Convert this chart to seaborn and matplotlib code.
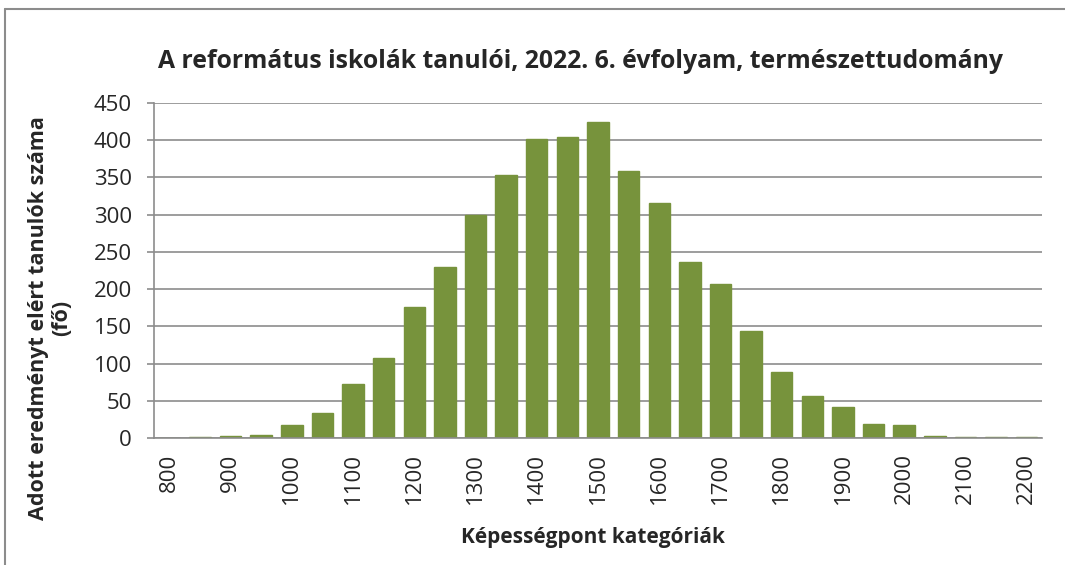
import pandas as pd
import seaborn as sns
import matplotlib.pyplot as plt
from matplotlib.lines import Line2D

categories = [str(v) for v in range(800, 2250, 50)]
counts = [0, 2, 3, 4, 17, 33, 72, 107, 176, 230, 299, 353, 402, 405, 424,
          358, 316, 237, 207, 144, 89, 56, 41, 19, 18, 3, 1, 1, 1]
tick_labels = [c if i % 2 == 0 else '' for i, c in enumerate(categories)]

df = pd.DataFrame({'kategoria': categories, 'fo': counts})

sns.set_style('white')
plt.rcParams['font.family'] = ['Open Sans', 'DejaVu Sans']

W, H = 1065, 565
fig = plt.figure(figsize=(W / 100, H / 100), dpi=100)
ax = fig.add_axes([154 / W, 1 - 438 / H, (1042 - 154) / W, (438 - 103) / H])

sns.barplot(data=df, x='kategoria', y='fo', color='#77933C', saturation=1,
            width=0.70, edgecolor='#77933C', linewidth=1.0, ax=ax)

grey = '#8c8c8c'
ax.set_ylim(0, 450)
ax.set_xlim(-0.5, len(categories) - 0.5)
ax.set_yticks(range(0, 451, 50))
ax.yaxis.grid(True, color=grey, linewidth=1.2)
ax.set_axisbelow(True)

ax.set_xticks(range(len(categories)))
ax.set_xticklabels(tick_labels, rotation=90, fontsize=16)
ax.tick_params(axis='x', which='major', length=0, pad=11)
ax.set_xticks([i - 0.5 for i in range(len(categories) + 1)], minor=True)
ax.tick_params(axis='x', which='minor', length=5.5, width=1.2, color=grey, direction='out')
ax.tick_params(axis='y', labelsize=16, length=5, width=1.2, color=grey,
               direction='out', left=True, pad=11)

for s in ['top', 'right']:
    ax.spines[s].set_visible(False)
for s in ['left', 'bottom']:
    ax.spines[s].set_color(grey)
    ax.spines[s].set_linewidth(1.2)

ax.set_xlabel('')
ax.set_ylabel('')
fig.text(593 / W, 1 - 537 / H, 'Képességpont kategóriák', fontsize=15,
         fontweight='bold', ha='center', va='center')
fig.text(50 / W, 1 - 318 / H, 'Adott eredményt elért tanulók száma\n(fő)', fontsize=15.5,
         fontweight='bold', ha='center', va='center', rotation=90, linespacing=1.1)
fig.text(580 / W, 1 - 62 / H, 'A református iskolák tanulói, 2022. 6. évfolyam, természettudomány',
         fontsize=17.8, fontweight='bold', ha='center', va='center')

# chart area border (only top and left edges fall inside the image)
fig.lines.append(Line2D([5 / W, 5 / W], [0, 1 - 9 / H], transform=fig.transFigure,
                        color=grey, linewidth=1.5))
fig.lines.append(Line2D([5 / W, 1], [1 - 9 / H, 1 - 9 / H], transform=fig.transFigure,
                        color=grey, linewidth=1.5))

fig.savefig('out.png', dpi=100)
